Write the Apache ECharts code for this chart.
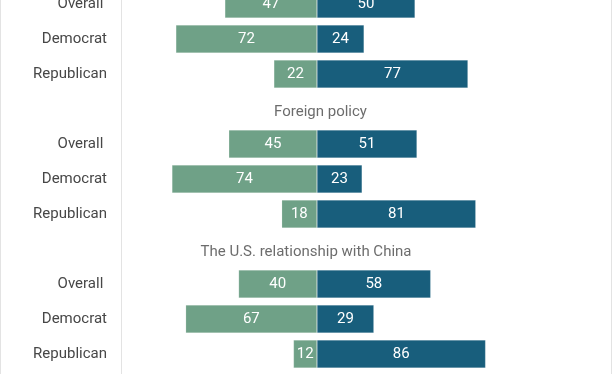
<!DOCTYPE html>
<html>
<head>
<meta charset="utf-8">
<script src="https://cdn.jsdelivr.net/npm/echarts@6/dist/echarts.min.js"></script>
<style>
html,body{margin:0;padding:0;background:#fff;}
#c{width:612px;height:374px;}
</style>
</head>
<body>
<div id="c"></div>
<script>
// Row labels (empty string = a group-title row)
const rowLabels = ['Overall ', 'Democrat', 'Republican', '', 'Overall ', 'Democrat', 'Republican', '', 'Overall ', 'Democrat', 'Republican', ''];
// Group titles and the row index where they sit
const groupTitles = ['Foreign policy', 'The U.S. relationship with China'];
const groupTitleRows = [3, 7];
// Left (green) and right (blue) values
const greenVals = [47, 72, 22, null, 45, 74, 18, null, 40, 67, 12, null];
const blueVals  = [50, 24, 77, null, 51, 23, 81, null, 58, 29, 86, null];

const GREEN = '#6fa187';
const BLUE = '#185e7c';
const TEXT = '#474747';
// horizontal nudges of the group titles (layout only)
const TITLE_NUDGE = [3.5, -11];

const cats = rowLabels.map((_, i) => 'r' + i);
const chart = echarts.init(document.getElementById('c'), null, {renderer: 'canvas'});

const labelStyle = {
  show: true, position: 'inside', color: '#ffffff', fontSize: 15,
  fontFamily: 'Roboto', fontWeight: 'normal'
};

chart.setOption({
  animation: false,
  backgroundColor: '#ffffff',
  grid: {left: 121, width: 392, top: -13.5, height: 420, containLabel: false, outerBoundsMode: 'none'},
  xAxis: {
    type: 'value', min: -100, max: 100, show: false
  },
  yAxis: {
    type: 'category', inverse: true, data: cats,
    axisLine: {show: true, onZero: false, lineStyle: {color: '#e3e3e3', width: 1}},
    axisTick: {show: false},
    splitLine: {show: false},
    axisLabel: {
      margin: 14, fontSize: 15, color: TEXT, fontFamily: 'Roboto',
      formatter: (v, i) => rowLabels[i]
    }
  },
  series: [
    {
      type: 'bar', stack: 's', barWidth: 28,
      data: greenVals.map(v => v == null ? null : -v),
      itemStyle: {color: GREEN, borderColor: 'rgba(255,255,255,0.35)', borderWidth: 0.5},
      label: Object.assign({}, labelStyle, {formatter: p => Math.abs(p.value)})
    },
    {
      type: 'bar', stack: 's', barWidth: 28,
      data: blueVals,
      itemStyle: {color: BLUE, borderColor: 'rgba(255,255,255,0.35)', borderWidth: 0.5},
      label: Object.assign({}, labelStyle, {formatter: p => p.value})
    },
    {
      type: 'scatter', symbolSize: 0, silent: true,
      data: groupTitles.map((t, i) => ({
        value: [0, groupTitleRows[i]], name: t,
        label: {offset: [TITLE_NUDGE[i], 3]}
      })),
      label: {
        show: true, position: 'inside', offset: [0, 3],
        formatter: p => p.name, color: TEXT, fontSize: 15, fontFamily: 'Roboto'
      }
    }
  ],
  graphic: [
    {type: 'line', shape: {x1: 0.5, y1: 0, x2: 0.5, y2: 374}, style: {stroke: '#e3e3e3', lineWidth: 1}},
    {type: 'line', shape: {x1: 611.5, y1: 0, x2: 611.5, y2: 374}, style: {stroke: '#e3e3e3', lineWidth: 1}}
  ]
});
</script>
</body>
</html>
